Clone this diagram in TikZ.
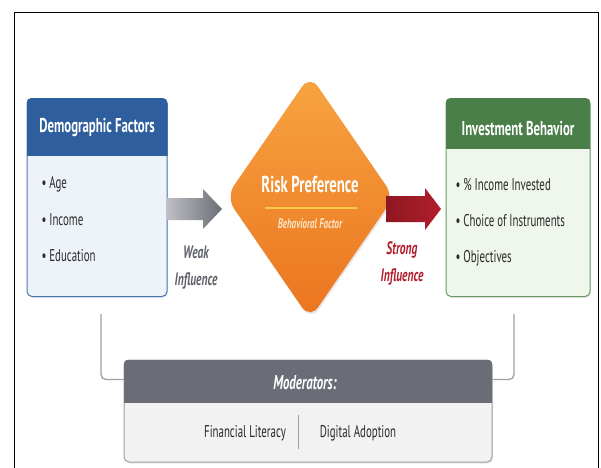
\documentclass[tikz,border=0pt]{standalone}
\usepackage{fontspec}
\setmainfont{PT Sans}[FakeStretch=0.64]
\usetikzlibrary{calc, shapes.geometric, shadows}

\definecolor{demoblue}{HTML}{2E5E9E}
\definecolor{demoline}{HTML}{4A76B0}
\definecolor{demobody}{HTML}{EEF3FA}
\definecolor{investgreen}{HTML}{4B7F49}
\definecolor{investline}{HTML}{6A9A63}
\definecolor{investbody}{HTML}{EFF6EB}
\definecolor{modgray}{HTML}{6A6D75}
\definecolor{modline}{HTML}{9C9EA3}
\definecolor{modbody}{HTML}{F2F2F3}
\definecolor{risklight}{HTML}{F7A441}
\definecolor{riskdark}{HTML}{EB741F}
\definecolor{riskgold}{HTML}{F6C94A}
\definecolor{riskcream}{HTML}{FCE4C6}
\definecolor{weaklight}{HTML}{BDBEC3}
\definecolor{weakdark}{HTML}{6B6E77}
\definecolor{strongred}{HTML}{B11E2D}
\definecolor{strongdark}{HTML}{8E1721}
\definecolor{textdark}{HTML}{2A2A2A}

\begin{document}
\begin{tikzpicture}[x=1pt, y=-1pt,
    box/.style={draw, line width=1pt, rounded corners=5pt, inner sep=0pt,
        drop shadow={opacity=0.18, shadow xshift=1pt, shadow yshift=-1.5pt}},
    headtext/.style={text=white, font=\fontsize{20}{22}\selectfont\bfseries},
    item/.style={anchor=west, text=textdark, font=\fontsize{17}{20}\selectfont},
    linkline/.style={draw=modline, line width=1.3pt, rounded corners=5pt}]

    % Frame and page size
    \useasboundingbox (0,0) rectangle (601,467);
    \draw[line width=1pt] (14.5,480) -- (14.5,12.5) -- (598.5,12.5) -- (598.5,480);

    % Demographic factors box
    \node[box, draw=demoline, fill=demobody, minimum width=140pt, minimum height=198pt]
        (demo) at (97,197.5) {};
    \begin{scope}
        \clip[rounded corners=5pt] (demo.south west) rectangle (demo.north east);
        \fill[demoblue] (demo.north west) rectangle (demo.east |- 0,156);
    \end{scope}
    \node[headtext] (demotitle) at (demo.north |- 0,128) {Demographic Factors};
    \node[item] (age)  at (38,184) {\textbullet\ Age};
    \node[item] (income) at (38,220) {\textbullet\ Income};
    \node[item] (educ) at (38,256) {\textbullet\ Education};

    % Investment behavior box
    \node[box, draw=investline, fill=investbody, minimum width=144pt, minimum height=198pt]
        (invest) at (518,197.5) {};
    \begin{scope}
        \clip[rounded corners=5pt] (invest.south west) rectangle (invest.north east);
        \fill[investgreen] (invest.north west) rectangle (invest.east |- 0,149);
    \end{scope}
    \node[headtext] (investtitle) at (invest.north |- 0,129) {Investment Behavior};
    \node[item] (share)  at (452,185) {\textbullet\ \% Income Invested};
    \node[item] (instr)  at (452,221) {\textbullet\ Choice of Instruments};
    \node[item] (object) at (452,258) {\textbullet\ Objectives};

    % Risk preference diamond
    \node[diamond, rounded corners=14pt, inner sep=0pt, minimum width=168pt, minimum height=244pt,
        top color=risklight, bottom color=riskdark,
        drop shadow={opacity=0.2, shadow xshift=1pt, shadow yshift=-2pt}]
        (risk) at (310,197) {};
    \node[text=white, font=\fontsize{23}{25}\selectfont\bfseries] (risktitle) at (310,184) {Risk Preference};
    \draw[riskgold, line width=1.3pt] (265,208) -- (357,208);
    \node[text=riskcream, font=\fontsize{14}{16}\selectfont\bfseries\itshape] (riskfactor) at (310,224) {Behavioral Factor};

    % Weak influence arrow
    \coordinate (weakstart) at (demo.east |- 0,209);
    \coordinate (weaktip)   at (222,209);
    \shade[left color=weaklight, right color=weakdark]
        ($(weakstart)+(0,-11)$) -- ($(weaktip)+(-19,-11)$) -- ($(weaktip)+(-19,-20)$) -- (weaktip)
        -- ($(weaktip)+(-19,20)$) -- ($(weaktip)+(-19,11)$) -- ($(weakstart)+(0,11)$) -- cycle;
    \node[text=weakdark!90!black, align=center, font=\fontsize{18}{27}\selectfont\bfseries\itshape]
        (weaktext) at (196,268) {Weak\\Influence};

    % Strong influence arrow
    \coordinate (strongstart) at (386,209);
    \coordinate (strongtip)   at (441,209);
    \shade[left color=strongdark, right color=strongred]
        ($(strongstart)+(0,-13)$) -- ($(strongtip)+(-16,-13)$) -- ($(strongtip)+(-16,-21)$) -- (strongtip)
        -- ($(strongtip)+(-16,21)$) -- ($(strongtip)+(-16,13)$) -- ($(strongstart)+(0,13)$) -- cycle;
    \node[text=strongred, align=center, font=\fontsize{18}{27}\selectfont\bfseries\itshape]
        (strongtext) at (402,263) {Strong\\Influence};

    % Moderators box
    \node[box, draw=modline, fill=modbody, minimum width=368pt, minimum height=102pt]
        (moder) at (308,411) {};
    \begin{scope}
        \clip[rounded corners=5pt] (moder.south west) rectangle (moder.north east);
        \fill[modgray] (moder.north west) rectangle (moder.east |- 0,403);
    \end{scope}
    \node[text=white, font=\fontsize{20}{22}\selectfont\bfseries\itshape] (modtitle) at (305,383) {Moderators:};
    \node[text=textdark, font=\fontsize{17}{20}\selectfont] (literacy) at (245,433) {Financial Literacy};
    \node[text=textdark, font=\fontsize{17}{20}\selectfont] (digital) at (358,433) {Digital Adoption};
    \draw[modline, line width=1pt] (298,415) -- (298,449);

    % Links to the moderators
    \draw[linkline] ([xshift=4pt, yshift=-17pt]demo.south) |- ([yshift=-20pt]moder.north west);
    \draw[linkline] ([xshift=-4pt, yshift=-17pt]invest.south) |- ([yshift=-20pt]moder.north east);

\end{tikzpicture}
\end{document}
